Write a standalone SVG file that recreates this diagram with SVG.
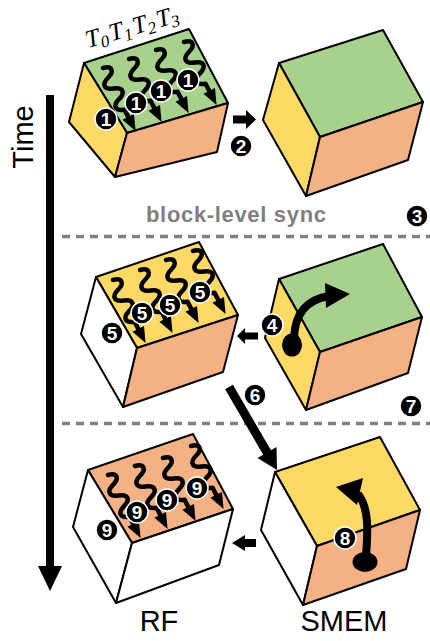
<svg xmlns="http://www.w3.org/2000/svg" width="430" height="641" viewBox="0 0 430 641">
<style>
.f{stroke:#000;stroke-width:2;stroke-linejoin:round}
.g{fill:#a9d18e}.y{fill:#ffd966}.o{fill:#f4b183}.w{fill:#fff}
.wv{fill:none;stroke:#000;stroke-width:4.5;stroke-linecap:round;stroke-linejoin:round}
.c{fill:#000;stroke:#fff;stroke-width:1.5}
.n{font-family:"Liberation Sans",Arial,sans-serif;font-weight:bold;font-size:19px;fill:#fff;text-anchor:middle}
.lbl{font-family:"Liberation Sans",Arial,sans-serif;font-size:29px;fill:#000;text-anchor:middle}
.dash{stroke:#7f7f7f;stroke-width:3.5;stroke-dasharray:8 6;fill:none}
.tt{font-family:"Liberation Serif","Times New Roman",serif;font-style:italic;font-size:25px;fill:#000}
.ts{font-size:17px}
</style>
<defs>
<g id="wave">
<path class="wv" d="M0 0 C9 2,9 8,0 11 C-9 14,-9 20,0 23 C9 26,9 32,0 35 C-9 38,-9 44,0 47 L0 57"/>
<polygon points="0,71 -6.5,55 6.5,55" fill="#000"/>
</g>
</defs>

<g id="time-axis">
<rect x="46" y="95" width="8" height="472" fill="#000"/>
<polygon points="38,566 62,566 50,591" fill="#000"/>
<text class="lbl" transform="translate(33,137) rotate(-90)" x="0" y="0" font-size="30">Time</text>
</g>

<g id="sync-lines">
<line class="dash" x1="62" y1="236.5" x2="430" y2="236.5"/>
<line class="dash" x1="62" y1="423.5" x2="430" y2="423.5"/>
<text x="146" y="222" font-family="Liberation Sans,Arial,sans-serif" font-weight="bold" font-size="22" fill="#7f7f7f" textLength="180" lengthAdjust="spacing">block-level sync</text>
</g>

<g id="rf1">
<polygon class="f g" points="84,63 189,29 228,103 127,133"/>
<polygon class="f y" points="84,63 127,133 115,177 69,122"/>
<polygon class="f o" points="127,133 228,103 217,152 115,177"/>
<g transform="translate(88,48) rotate(-16)">
<text class="tt" x="0" y="0">T<tspan class="ts" dy="4">0</tspan><tspan x="24.5" dy="-4">T</tspan><tspan class="ts" dy="4">1</tspan><tspan x="49" dy="-4">T</tspan><tspan class="ts" dy="4">2</tspan><tspan x="73.5" dy="-4">T</tspan><tspan class="ts" dy="4">3</tspan></text>
</g>
<use href="#wave" transform="translate(103,68) rotate(-27.3)"/>
<use href="#wave" transform="translate(129,59) rotate(-27.3)"/>
<use href="#wave" transform="translate(156,50) rotate(-27.3)"/>
<use href="#wave" transform="translate(184,42) rotate(-27.3)"/>
<circle class="c" cx="106" cy="119" r="11"/><text class="n" x="106" y="125.8">1</text>
<circle class="c" cx="136" cy="103" r="11"/><text class="n" x="136" y="109.8">1</text>
<circle class="c" cx="161" cy="91" r="11"/><text class="n" x="161" y="97.8">1</text>
<circle class="c" cx="188" cy="80" r="11"/><text class="n" x="188" y="86.8">1</text>
</g>

<g id="smem1">
<polygon class="f g" points="279,63 383,30 423,102 320,137"/>
<polygon class="f y" points="279,63 320,137 306,196 263,120"/>
<polygon class="f o" points="320,137 423,102 408,160 306,196"/>
</g>

<g id="rf2">
<polygon class="f y" points="96,277 199,242 238,315 137,348"/>
<polygon class="f w" points="96,277 137,348 123,407 81,334"/>
<polygon class="f o" points="137,348 238,315 223,372 123,407"/>
<use href="#wave" transform="translate(113,280) rotate(-27.3)"/>
<use href="#wave" transform="translate(140,270) rotate(-27.3)"/>
<use href="#wave" transform="translate(166,260) rotate(-27.3)"/>
<use href="#wave" transform="translate(193,251) rotate(-27.3)"/>
<circle class="c" cx="112" cy="333" r="11"/><text class="n" x="112" y="339.8">5</text>
<circle class="c" cx="142" cy="313" r="11"/><text class="n" x="142" y="319.8">5</text>
<circle class="c" cx="170" cy="305" r="11"/><text class="n" x="170" y="311.8">5</text>
<circle class="c" cx="200" cy="292" r="11"/><text class="n" x="200" y="298.8">5</text>
</g>

<g id="smem2">
<polygon class="f g" points="279,279 383,244 422,317 320,352"/>
<polygon class="f y" points="279,279 320,352 306,410 265,338"/>
<polygon class="f o" points="320,352 422,317 408,373 306,410"/>
<path d="M294 338 C295 316,304 300,329 296" fill="none" stroke="#000" stroke-width="8"/>
<polygon points="325,283 350,294 326,308" fill="#000"/>
<ellipse cx="292" cy="345" rx="10" ry="11.5" fill="#000"/>
<circle class="c" cx="272" cy="325" r="11"/><text class="n" x="272" y="331.8">4</text>
</g>

<g id="rf3">
<polygon class="f o" points="88,470 193,434 233,509 132,543"/>
<polygon class="f w" points="88,470 132,543 116,603 73,527"/>
<polygon class="f w" points="132,543 233,509 219,565 116,603"/>
<use href="#wave" transform="translate(108,475) rotate(-27.3)"/>
<use href="#wave" transform="translate(135,466) rotate(-27.3)"/>
<use href="#wave" transform="translate(163,458) rotate(-27.3)"/>
<use href="#wave" transform="translate(191,446) rotate(-27.3)"/>
<circle class="c" cx="107" cy="530" r="11"/><text class="n" x="107" y="536.8">9</text>
<circle class="c" cx="137" cy="512" r="11"/><text class="n" x="137" y="518.8">9</text>
<circle class="c" cx="167" cy="500" r="11"/><text class="n" x="167" y="506.8">9</text>
<circle class="c" cx="197" cy="488" r="11"/><text class="n" x="197" y="494.8">9</text>
</g>

<g id="smem3">
<polygon class="f y" points="275,472 380,437 420,510 317,546"/>
<polygon class="f w" points="275,472 317,546 303,605 261,530"/>
<polygon class="f o" points="317,546 420,510 406,569 303,605"/>
<path d="M366 556 C368 530,369 508,358 494" fill="none" stroke="#000" stroke-width="8"/>
<polygon points="336,487 363,478 357,505" fill="#000"/>
<ellipse cx="365" cy="562" rx="12.5" ry="10" fill="#000"/>
<circle class="c" cx="345" cy="538" r="11"/><text class="n" x="345" y="544.8">8</text>
</g>

<g id="connectors">
<polygon points="233,115.5 246,115.5 246,110 256,119.5 246,129 246,123.5 233,123.5" fill="#000"/>
<polygon points="258,332.5 245,332.5 245,328 237,336 245,344 245,339.5 258,339.5" fill="#000"/>
<polygon points="256,539 245,539 245,535 232,543 245,551 245,547 256,547" fill="#000"/>
<line x1="229" y1="387" x2="268" y2="454" stroke="#000" stroke-width="9"/>
<polygon points="277,470 276.5,447 257.5,458" fill="#000"/>
</g>

<g id="step-labels">
<circle class="c" cx="241" cy="146" r="11"/><text class="n" x="241" y="152.8">2</text>
<circle class="c" cx="417" cy="216" r="11"/><text class="n" x="417" y="222.8">3</text>
<circle class="c" cx="255" cy="395" r="11"/><text class="n" x="255" y="401.8">6</text>
<circle class="c" cx="411" cy="406" r="11"/><text class="n" x="411" y="412.8">7</text>
</g>

<g id="labels">
<text class="lbl" x="159" y="631">RF</text>
<text class="lbl" x="344" y="631">SMEM</text>
</g>
</svg>
